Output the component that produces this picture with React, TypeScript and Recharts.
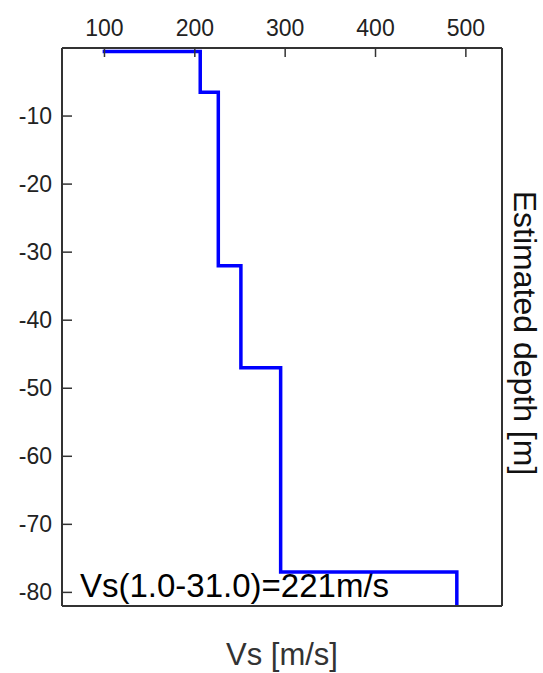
import React from 'react';
import { LineChart, Line, XAxis, YAxis } from 'recharts';

// step profile: shear-wave velocity vs depth
const vsValues = [98, 206, 206, 226, 226, 251, 251, 295, 295, 490, 490];
const depthValues = [-0.5, -0.5, -6.5, -6.5, -32, -32, -47, -47, -77, -77, -82];
const vsTicks = [100, 200, 300, 400, 500];
const depthTicks = [-10, -20, -30, -40, -50, -60, -70, -80];
const annotation = 'Vs(1.0-31.0)=221m/s';

const profile = vsValues.map((vs, i) => ({ vs, depth: depthValues[i] }));

const W = 543;
const H = 673;
const PLOT_LEFT = 62;
const PLOT_TOP = 48;
const PLOT_RIGHT = 502;
const PLOT_BOTTOM = 606;
const FONT = '"Liberation Sans", Arial, sans-serif';
const FRAME = '#333';

const TopTick = (props: any) => {
  const { x, payload } = props;
  return (
    <g>
      <line x1={x} x2={x} y1={PLOT_TOP} y2={PLOT_TOP + 9} stroke={FRAME} strokeWidth={1.5} />
      <text x={x} y={PLOT_TOP - 12} textAnchor="middle" fontSize={23} fontFamily={FONT} fill="#222">
        {payload.value}
      </text>
    </g>
  );
};

const LeftTick = (props: any) => {
  const { y, payload } = props;
  return (
    <g>
      <line x1={PLOT_LEFT} x2={PLOT_LEFT + 10} y1={y} y2={y} stroke={FRAME} strokeWidth={1.5} />
      <text x={PLOT_LEFT - 10} y={y + 8} textAnchor="end" fontSize={23} fontFamily={FONT} fill="#222">
        {payload.value}
      </text>
    </g>
  );
};

const App: React.FC = () => {
  return (
    <div style={{ position: 'absolute', left: 0, top: 0, background: '#fff' }}>
      <LineChart
        width={W}
        height={H}
        data={profile}
        margin={{ top: PLOT_TOP - 30, left: PLOT_LEFT - 50, right: W - PLOT_RIGHT - 20, bottom: H - PLOT_BOTTOM - 30 }}
      >
        <XAxis
          xAxisId="t"
          orientation="top"
          type="number"
          dataKey="vs"
          domain={[53, 540]}
          ticks={vsTicks}
          height={30}
          tickLine={false}
          tick={TopTick}
          axisLine={{ stroke: FRAME, strokeWidth: 2 }}
          allowDataOverflow
        />
        <XAxis
          xAxisId="b"
          orientation="bottom"
          type="number"
          domain={[53, 540]}
          height={30}
          tick={false}
          tickLine={false}
          axisLine={{ stroke: FRAME, strokeWidth: 2 }}
          allowDataOverflow
        />
        <YAxis
          yAxisId="l"
          type="number"
          domain={[-82, 0]}
          ticks={depthTicks}
          width={50}
          tickLine={false}
          tick={LeftTick}
          axisLine={{ stroke: FRAME, strokeWidth: 2 }}
          allowDataOverflow
        />
        <YAxis
          yAxisId="r"
          orientation="right"
          type="number"
          domain={[-82, 0]}
          width={20}
          tick={false}
          tickLine={false}
          axisLine={{ stroke: FRAME, strokeWidth: 2 }}
          allowDataOverflow
        />
        <Line
          xAxisId="t"
          yAxisId="l"
          type="linear"
          dataKey="depth"
          stroke="#0000ff"
          strokeWidth={3.5}
          dot={false}
          isAnimationActive={false}
        />
        <text x={80} y={597} fontSize={33} fontFamily={FONT} fill="#000">
          {annotation}
        </text>
        <text x={(PLOT_LEFT + PLOT_RIGHT) / 2} y={665} textAnchor="middle" fontSize={31} fontFamily={FONT} fill="#333">
          Vs [m/s]
        </text>
        <text
          x={514}
          y={333}
          textAnchor="middle"
          fontSize={32}
          fontFamily={FONT}
          fill="#111"
          transform="rotate(90 514 333)"
        >
          Estimated depth [m]
        </text>
      </LineChart>
    </div>
  );
};

export default App;
